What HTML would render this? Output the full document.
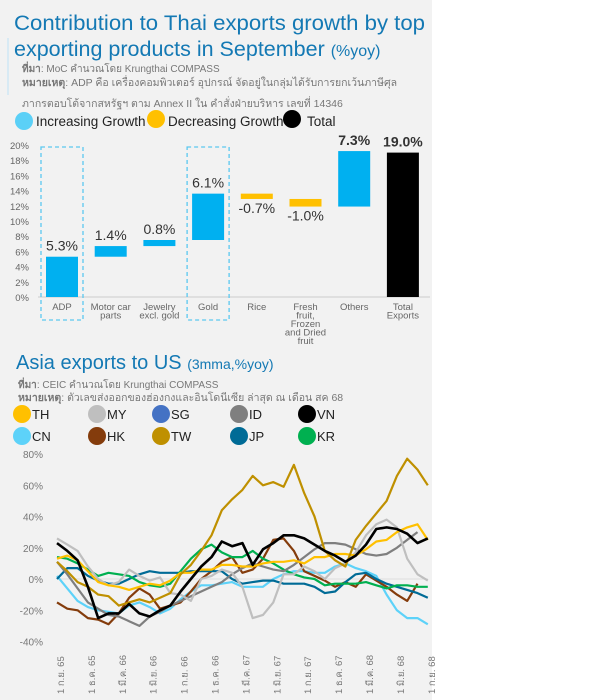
<!DOCTYPE html>
<html><head><meta charset="utf-8">
<style>
body{margin:0;background:#fff;width:600px;height:700px;overflow:hidden;font-family:"Liberation Sans","Noto Sans CJK SC",sans-serif}
svg{position:absolute;left:0;top:0}
</style></head>
<body>
<svg width="600" height="700" id="fig">
<rect x="0" y="0" width="432" height="700" fill="#f2f2f2"/>
<line x1="8" y1="38" x2="8" y2="95" stroke="#bde3f5" stroke-width="1"/>
<text x="14" y="30" font-size="21.5" fill="#1479b4" textLength="411" lengthAdjust="spacingAndGlyphs">Contribution to Thai exports growth by top</text>
<text x="14" y="56" font-size="21.5" fill="#1479b4">exporting products in September <tspan font-size="16">(%yoy)</tspan></text>
<text x="22" y="72" font-size="10" fill="#777"><tspan font-weight="bold">ที่มา</tspan>: MoC คำนวณโดย Krungthai COMPASS</text>
<text x="22" y="86" font-size="10.5" fill="#777"><tspan font-weight="bold">หมายเหตุ</tspan>: ADP  คือ เครื่องคอมพิวเตอร์ อุปกรณ์ จัดอยู่ในกลุ่มได้รับการยกเว้นภาษีศุล</text>
<text x="22" y="107" font-size="10.5" fill="#777">ภากรตอบโต้จากสหรัฐฯ ตาม Annex II ใน คำสั่งฝ่ายบริหาร เลขที่ 14346</text>
<g>
<circle cx="24" cy="121" r="9" fill="#5bd0f7"/>
<text x="36" y="126" font-size="13.5" fill="#222">Increasing Growth</text>
<circle cx="156" cy="119" r="9" fill="#ffc000"/>
<text x="168" y="126" font-size="13.5" fill="#222">Decreasing Growth</text>
<circle cx="292" cy="119" r="9" fill="#000"/>
<text x="307" y="126" font-size="13.5" fill="#222">Total</text>
</g>
<g id="bars"></g>
<text x="16" y="369" font-size="20" fill="#1479b4">Asia exports to US <tspan font-size="14">(3mma,%yoy)</tspan></text>
<text x="18" y="388" font-size="10" fill="#777"><tspan font-weight="bold">ที่มา</tspan>: CEIC คำนวณโดย Krungthai COMPASS</text>
<text x="18" y="401" font-size="10.5" fill="#777"><tspan font-weight="bold">หมายเหตุ</tspan>: ตัวเลขส่งออกของฮ่องกงและอินโดนีเซีย ล่าสุด ณ เดือน สค 68</text>
<g id="legend2"></g>
<g id="lines"></g>
</svg>
<script>
const NS="http://www.w3.org/2000/svg";
function mk(p,t,a){const e=document.createElementNS(NS,t);for(const k in a)e.setAttribute(k,a[k]);p.appendChild(e);return e;}
// ---- waterfall data ----
const barCats=["ADP","Motor car|parts","Jewelry|excl. gold","Gold","Rice","Fresh|fruit,|Frozen|and Dried|fruit","Others","Total|Exports"];
const barVals=[5.3,1.4,0.8,6.1,-0.7,-1.0,7.3,19.0];
const barLabels=["5.3%","1.4%","0.8%","6.1%","-0.7%","-1.0%","7.3%","19.0%"];
const barTicks=[0,2,4,6,8,10,12,14,16,18,20];
const bg=document.getElementById('bars');
const y1=v=>297-v*7.6, x1=i=>62+i*48.7;
barTicks.forEach(t=>{const e=mk(bg,'text',{x:29,y:y1(t)+4,'font-size':9.5,fill:'#666','text-anchor':'end'});e.textContent=t+'%';

});
const ax=mk(bg,'line',{x1:38,x2:430,y1:297,y2:297,stroke:'#ccc'});


let cum=0;
barVals.forEach((v,i)=>{
  const last=i===barVals.length-1;
  let a,b,col;
  if(last){a=0;b=v;col='#000';}else{a=cum;b=cum+v;cum=b;col=v>=0?'#00b0f0':'#ffc000';}
  const top=Math.max(a,b),bot=Math.min(a,b);
  const r=mk(bg,'rect',{x:x1(i)-16,y:y1(top),width:32,height:Math.max(1,(top-bot)*7.6),fill:col});
  
  
  const ly=v>=0?y1(top)-6:y1(bot)+14;
  const l=mk(bg,'text',{x:x1(i),y:ly,'font-size':14,fill:'#333','text-anchor':'middle','font-weight':last||i==6?'bold':'normal'});
  l.textContent=barLabels[i];
  
  
  barCats[i].split('|').forEach((s,j)=>{const t=mk(bg,'text',{x:x1(i),y:310+j*8.5,'font-size':9.5,fill:'#666','text-anchor':'middle'});t.textContent=s;
  
  });
});
[0,3].forEach(i=>{const r=mk(bg,'rect',{x:x1(i)-21,y:147,width:42,height:173,fill:'none',stroke:'#5bc8f0','stroke-dasharray':'4,3','stroke-width':1.3});

});
// ---- line chart data ----
const countries=["TH","MY","SG","ID","VN","CN","HK","TW","JP","KR"];
const colors={TH:"#ffc000",MY:"#bfbfbf",SG:"#4472c4",ID:"#7f7f7f",VN:"#000000",CN:"#5dd2f9",HK:"#843c0c",TW:"#bf9000",JP:"#006b96",KR:"#00b050"};
const xTicks=["1 ก.ย. 65","1 ธ.ค. 65","1 มี.ค. 66","1 มิ.ย. 66","1 ก.ย. 66","1 ธ.ค. 66","1 มี.ค. 67","1 มิ.ย. 67","1 ก.ย. 67","1 ธ.ค. 67","1 มี.ค. 68","1 มิ.ย. 68","1 ก.ย. 68"];
const yTicks=[-40,-20,0,20,40,60,80];
const TH=[13,15,12,5,-2,-4,-5,-7,-5,-3,-4,-1,4,4,6,6,9,9,8,8,10,11,11,12,10,14,14,16,16,15,19,24,25,30,33,35,25];
const MY=[26,22,18,8,0,-4,-2,6,2,-1,1,-9,-10,-14,0,2,6,4,-5,-25,-23,-15,3,3,8,5,0,7,10,17,28,35,38,33,13,3,-1];
const ID=[11,3,-6,-15,-19,-23,-24,-27,-30,-24,-21,-17,-14,-11,-8,-5,-2,3,7,10,8,6,5,9,14,19,23,23,22,19,16,15,16,20,25,30];
const CN=[2,-6,-14,-18,-20,-21,-22,-17,-15,-18,-22,-19,-13,-8,-4,-4,-3,-2,-5,-5,-5,0,3,5,5,4,4,8,10,7,5,2,-10,-20,-25,-25,-29];
const HK=[-15,-19,-20,-25,-26,-29,-22,-12,-6,-10,-19,-17,-15,-8,0,5,11,14,4,6,13,25,26,18,5,2,-1,-5,-2,-5,3,-1,-5,-10,-14,-3];
const TW=[11,5,-2,-5,-10,-11,-17,-15,-13,-15,-12,-9,3,9,18,28,44,51,57,66,60,62,59,73,55,40,18,12,8,25,34,42,50,66,77,70,60];
const JP=[0,7,7,2,-1,-3,-3,0,3,5,4,4,4,5,5,5,5,0,-3,-2,-1,-1,-3,-3,-3,-5,-9,-8,-2,3,4,0,-3,-5,-7,-9,-12];
const KR=[14,13,10,6,2,4,3,2,-2,-4,-5,-3,5,13,19,22,17,14,14,18,13,10,6,3,1,0,-4,-3,-3,-3,-2,-4,-6,-4,-4,-5,-5];
const VN=[23,18,12,-5,-25,-22,-22,-16,-22,-24,-20,-17,-8,0,8,14,24,21,23,9,19,23,28,28,26,22,18,15,11,15,22,32,33,32,29,23,26];
const series={CN,HK,JP,KR,ID,MY,TH,TW,VN};
const lg=document.getElementById('lines');
const x2=i=>57+i*10.3, y2=v=>579-v*1.5625;
yTicks.forEach(t=>{const e=mk(lg,'text',{x:43,y:y2(t)+4,'font-size':10,fill:'#777','text-anchor':'end'});e.textContent=t+'%';

});
xTicks.forEach((s,k)=>{const cx=x2(k*3)+7;const e=mk(lg,'text',{x:cx,y:694,'font-size':9.5,fill:'#777','text-anchor':'start',transform:`rotate(-90 ${cx} 694)`});
e.textContent=s;

});
const zl=mk(lg,'line',{x1:57,x2:428,y1:579,y2:579,stroke:'#ddd'});


Object.keys(series).forEach(c=>{
  const d=series[c].map((v,i)=>(i?'L':'M')+x2(i).toFixed(1)+','+y2(v).toFixed(1)).join('');
  const p=mk(lg,'path',{d,fill:'none',stroke:colors[c],'stroke-width':c==='VN'?2.6:2.2,'stroke-linejoin':'round'});
  
  
});
const lgd=document.getElementById('legend2');
const lx=[22,97,161,239,307];
countries.forEach((c,i)=>{const r=i<5?0:1,col=i%5;
  const order=[["TH","MY","SG","ID","VN"],["CN","HK","TW","JP","KR"]][r][col];
  const cy=r?436:414;
  const ci=mk(lgd,'circle',{cx:lx[col],cy,r:9,fill:colors[order]});
  
  
  const t=mk(lgd,'text',{x:lx[col]+10,y:cy+5,'font-size':13,fill:'#222'});t.textContent=order;
  
  
});
</script>
</body></html>
